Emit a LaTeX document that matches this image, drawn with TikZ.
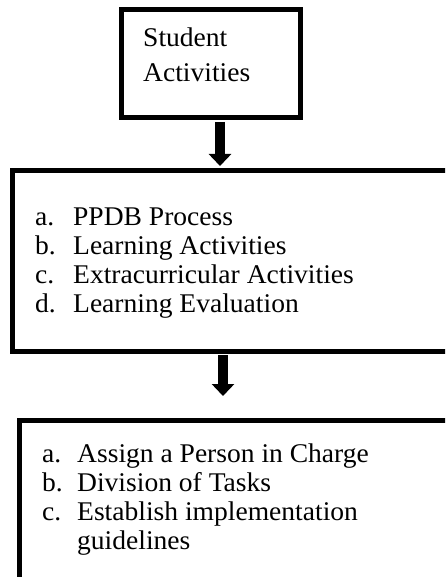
\documentclass[tikz,border=0pt]{standalone}
\usepackage{fontspec}
\setmainfont{Liberation Serif}[FakeStretch=1.02]
\usetikzlibrary{arrows.meta}
\tikzset{
  boxframe/.style={draw=black, line width=5pt, fill=none},
  bigarrow/.style={draw=black, line width=10pt, -{Triangle[width=22pt,length=12pt]}},
  listtext/.style={inner sep=0pt, anchor=base west, font=\fontsize{27}{29}\selectfont},
}
\begin{document}
\begin{tikzpicture}[x=1pt,y=-1pt]
\useasboundingbox (0,0) rectangle (445,577);
\clip (0,0) rectangle (445,577);
% boxes
\draw[boxframe] (121.5,9.5) rectangle (300,117.5);
\draw[boxframe] (12.5,170.5) rectangle (460,351.5);
\draw[boxframe] (19,420) rectangle (460,600);
% texts
\node[listtext, font=\fontsize{27}{35}\selectfont] (t1) at (143,47)
  {\begin{tabular}[t]{@{}l@{}}Student\\Activities\end{tabular}};
\node[listtext] (t2) at (35,225)
  {\begin{tabular}[t]{@{}p{38pt}@{}l@{}}
  a. & PPDB Process\\
  b. & Learning Activities\\
  c. & Extracurricular Activities\\
  d. & Learning Evaluation
  \end{tabular}};
\node[listtext] (t3) at (42,462)
  {\begin{tabular}[t]{@{}p{35pt}@{}l@{}}
  a. & Assign a Person in Charge\\
  b. & Division of Tasks\\
  c. & Establish implementation\\
     & guidelines
  \end{tabular}};
% arrows
\coordinate (a1s) at (220,122);
\coordinate (a1e) at (220,166);
\coordinate (a2s) at (223,355);
\coordinate (a2e) at (223,396);
\draw[bigarrow] (a1s) -- (a1e);
\draw[bigarrow] (a2s) -- (a2e);
\end{tikzpicture}
\end{document}
